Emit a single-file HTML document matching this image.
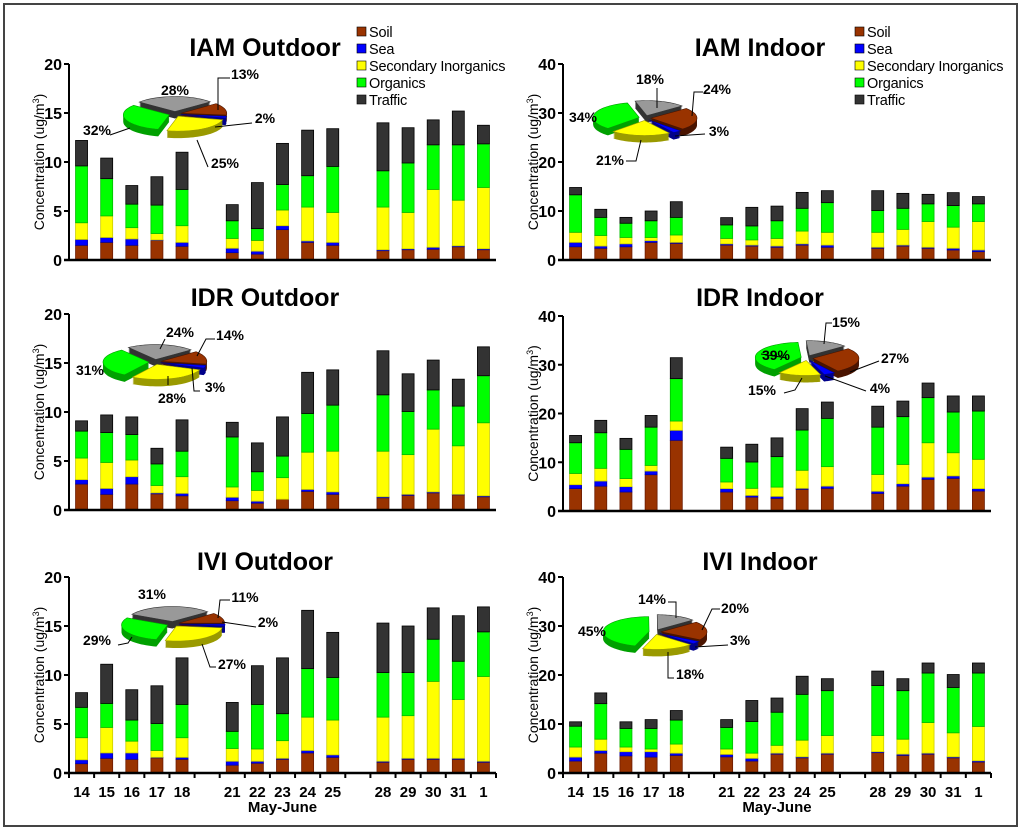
<!DOCTYPE html>
<html><head><meta charset="utf-8"><style>
body{margin:0;background:#fff}
svg text{font-family:"Liberation Sans",Arial,sans-serif}
</style></head><body>
<svg id="chart" width="1024" height="833" viewBox="0 0 1024 833" xmlns="http://www.w3.org/2000/svg">
<rect x="4" y="4" width="1013" height="822" fill="#fff" stroke="#444" stroke-width="2"/>
</svg>
<script>
// ---- data ----
const categories = ['14','15','16','17','18','','21','22','23','24','25','','28','29','30','31','1'];
const seriesNames = ['Soil','Sea','Secondary Inorganics','Organics','Traffic'];
const leftTicks = [0,5,10,15,20];
const rightTicks = [0,10,20,30,40];

const iamOutSoil = [1.5,1.8,1.5,2.0,1.4,0.75,0.6,3.1,1.8,1.5,0.95,1.05,1.1,1.35,1.05];
const iamOutSea = [0.6,0.5,0.65,0.05,0.4,0.45,0.3,0.4,0.15,0.3,0.1,0.1,0.2,0.1,0.1];
const iamOutSI = [1.7,2.2,1.15,0.65,1.7,1.0,1.1,1.6,3.45,3.05,4.35,3.7,5.9,4.65,6.25];
const iamOutOrg = [5.8,3.8,2.4,2.9,3.7,1.8,1.2,2.6,3.2,4.7,3.7,5.05,4.55,5.65,4.45];
const iamOutTraffic = [2.6,2.1,1.9,2.9,3.8,1.65,4.7,4.2,4.65,3.85,4.9,3.6,2.55,3.45,1.9];
const iamOutPie = [13,2,25,32,28];

const iamInSoil = [2.7,2.4,2.7,3.6,3.4,3.05,2.85,2.6,3.05,2.6,2.4,2.85,2.4,2.05,1.7];
const iamInSea = [0.9,0.45,0.6,0.35,0.2,0.25,0.2,0.25,0.25,0.45,0.2,0.2,0.2,0.35,0.35];
const iamInSI = [2.05,2.15,1.3,0.65,1.5,1.1,1.05,1.55,2.6,2.6,3.05,3.2,5.25,4.3,5.8];
const iamInOrg = [7.65,3.7,2.9,3.4,3.6,2.75,2.85,3.6,4.65,6.05,4.45,4.3,3.6,4.4,3.6];
const iamInTraffic = [1.5,1.65,1.2,2.0,3.2,1.5,3.8,3.0,3.25,2.45,4.05,3.05,1.95,2.65,1.5];
const iamInPie = [24,3,21,34,18];

const idrOutSoil = [2.65,1.6,2.65,1.65,1.45,0.95,0.7,1.1,1.9,1.6,1.25,1.5,1.75,1.55,1.35];
const idrOutSea = [0.45,0.6,0.75,0.1,0.25,0.35,0.2,0.0,0.2,0.25,0.1,0.1,0.1,0.05,0.1];
const idrOutSI = [2.2,2.65,1.7,0.75,1.7,1.05,1.1,2.2,3.8,4.15,4.65,4.05,6.4,4.95,7.45];
const idrOutOrg = [2.75,3.05,2.6,2.2,2.6,5.1,1.9,2.2,3.95,4.7,5.75,4.4,4.0,4.05,4.8];
const idrOutTraffic = [1.05,1.8,1.8,1.6,3.2,1.5,2.95,4.0,4.2,3.6,4.5,3.85,3.05,2.75,2.95];
const idrOutPie = [14,3,28,31,24];

const idrInSoil = [4.6,5.1,3.9,7.45,14.5,3.9,2.85,2.6,4.45,4.65,3.6,5.1,6.5,6.7,4.1];
const idrInSea = [0.8,1.05,1.1,0.75,2.05,0.7,0.35,0.4,0.2,0.45,0.45,0.5,0.45,0.5,0.5];
const idrInSI = [2.3,2.6,1.65,1.15,1.9,1.35,1.45,1.9,3.7,4.0,3.45,3.95,7.05,4.75,6.0];
const idrInOrg = [6.3,7.3,6.0,7.85,8.7,4.85,5.4,6.25,8.25,9.9,9.7,9.8,9.25,8.35,9.9];
const idrInTraffic = [1.5,2.55,2.25,2.4,4.3,2.3,3.65,3.85,4.4,3.35,4.3,3.2,3.0,3.3,3.1];
const idrInPie = [27,4,15,39,15];

const iviOutSoil = [0.95,1.5,1.4,1.55,1.4,0.8,1.0,1.4,2.05,1.6,1.1,1.4,1.4,1.4,1.1];
const iviOutSea = [0.4,0.55,0.65,0.05,0.2,0.4,0.2,0.1,0.25,0.25,0.1,0.1,0.1,0.1,0.1];
const iviOutSI = [2.25,2.6,1.2,0.7,2.0,1.3,1.25,1.8,3.4,3.55,4.5,4.35,7.85,6.0,8.65];
const iviOutOrg = [3.1,2.45,2.15,2.75,3.4,1.75,4.55,2.75,4.95,4.35,4.55,4.4,4.3,3.9,4.55];
const iviOutTraffic = [1.5,4.0,3.1,3.85,4.75,2.95,3.95,5.7,5.95,4.6,5.05,4.75,3.2,4.65,2.55];
const iviOutPie = [11,2,27,29,31];

const iviInSoil = [2.45,4.05,3.5,3.25,3.6,3.3,2.45,3.85,3.1,3.85,4.15,3.6,3.85,3.1,2.25];
const iviInSea = [0.8,0.55,0.85,1.1,0.45,0.5,0.55,0.2,0.2,0.2,0.2,0.25,0.2,0.2,0.25];
const iviInSI = [2.05,2.3,0.95,0.55,1.85,1.1,1.05,1.6,3.4,3.6,3.3,3.05,6.25,4.9,7.0];
const iviInOrg = [4.25,7.25,3.8,4.2,4.9,4.4,6.45,6.75,9.35,9.15,10.2,9.9,10.1,9.25,10.9];
const iviInTraffic = [0.9,2.2,1.35,1.8,1.95,1.6,4.3,2.9,3.7,2.45,2.95,2.45,2.05,2.65,2.05];
const iviInPie = [20,3,18,45,14];

// ---- drawing ----
const svg = document.getElementById('chart');
const NS = 'http://www.w3.org/2000/svg';
const fills = ['#993300','#0000ff','#ffff00','#00ff00','#333333'];
const strokes = ['#6b1a00','#0000aa','#cccc00','#00bb00','#000000'];
const pieTop = ['#993300','#0000ff','#ffff00','#00ff00','#999999'];
const pieSide = ['#4a1400','#00008a','#9a9a00','#00a000','#333333'];
const keys = ['soil','sea','si','org','traffic'];

function mk(tag, attrs, parent){
  const e = document.createElementNS(NS, tag);
  for (const k in attrs) e.setAttribute(k, attrs[k]);
  (parent||svg).appendChild(e);
  return e;
}

const panels = [
  {id:'iam-outdoor', title:'IAM Outdoor', x0:69, x1:496, top:64, bot:260, max:20, ticks:leftTicks, d:[iamOutSoil,iamOutSea,iamOutSI,iamOutOrg,iamOutTraffic], pie:iamOutPie, pc:[175,114], titleX:265, titleY:56, legend:true, legX:357, xlabels:false,
   labels:[[245,79,'13%'],[265,123,'2%'],[225,168,'25%'],[97,135,'32%'],[175,95,'28%']],
   leaders:[[[230,78],[218,78],[218,110]],[[252,123],[215,127]],[[208,167],[197,140]],[[110,135],[130,128]]]},
  {id:'iam-indoor', title:'IAM Indoor', x0:563, x1:991, top:64, bot:260, max:40, ticks:rightTicks, d:[iamInSoil,iamInSea,iamInSI,iamInOrg,iamInTraffic], pie:iamInPie, pc:[645,118], titleX:760, titleY:56, legend:true, legX:855, xlabels:false,
   labels:[[717,94,'24%'],[719,136,'3%'],[610,165,'21%'],[583,122,'34%'],[650,84,'18%']],
   leaders:[[[703,92],[694,92],[692,116]],[[705,134],[675,136]],[[626,161],[636,161],[641,140]],[[657,88],[657,108]]]},
  {id:'idr-outdoor', title:'IDR Outdoor', x0:69, x1:496, top:314, bot:510, max:20, ticks:leftTicks, d:[idrOutSoil,idrOutSea,idrOutSI,idrOutOrg,idrOutTraffic], pie:idrOutPie, pc:[155,362], titleX:265, titleY:306, legend:false, xlabels:false,
   labels:[[230,340,'14%'],[215,392,'3%'],[172,403,'28%'],[90,375,'31%'],[180,337,'24%']],
   leaders:[[[215,339],[206,339],[197,356]],[[200,391],[194,391],[192,368]],[[168,385],[168,376]],[[165,339],[160,349]]]},
  {id:'idr-indoor', title:'IDR Indoor', x0:563, x1:991, top:316, bot:511, max:40, ticks:rightTicks, d:[idrInSoil,idrInSea,idrInSI,idrInOrg,idrInTraffic], pie:idrInPie, pc:[807,358], titleX:760, titleY:306, legend:false, xlabels:false,
   labels:[[895,363,'27%'],[880,393,'4%'],[762,395,'15%'],[776,360,'39%'],[846,327,'15%']],
   leaders:[[[879,361],[850,372]],[[866,391],[825,376]],[[784,393],[795,390],[802,378]],[[787,358],[761,354]],[[832,323],[826,323],[824,344]]]},
  {id:'ivi-outdoor', title:'IVI Outdoor', x0:69, x1:496, top:577, bot:773, max:20, ticks:leftTicks, d:[iviOutSoil,iviOutSea,iviOutSI,iviOutOrg,iviOutTraffic], pie:iviOutPie, pc:[173,624], titleX:265, titleY:570, legend:false, xlabels:true,
   labels:[[245,602,'11%'],[268,627,'2%'],[232,669,'27%'],[97,645,'29%'],[152,599,'31%']],
   leaders:[[[230,600],[220,600],[218,618]],[[256,627],[222,622]],[[216,667],[210,667],[202,644]],[[118,645],[128,643],[132,637]]]},
  {id:'ivi-indoor', title:'IVI Indoor', x0:563, x1:991, top:577, bot:773, max:40, ticks:rightTicks, d:[iviInSoil,iviInSea,iviInSI,iviInOrg,iviInTraffic], pie:iviInPie, pc:[655,632], titleX:760, titleY:570, legend:false, xlabels:true,
   labels:[[735,613,'20%'],[740,645,'3%'],[690,679,'18%'],[592,636,'45%'],[652,604,'14%']],
   leaders:[[[720,609],[712,609],[702,630]],[[728,645],[695,647]],[[674,678],[668,678],[668,652]],[[668,602],[676,602],[676,618]]]}
];

panels.forEach(p => {
  const g = mk('g', {});
  
  
  const slotW = (p.x1 - p.x0) / categories.length;
  const xPos = i => p.x0 + slotW * (i + 0.5);
  const yPos = v => p.bot - v / p.max * (p.bot - p.top);

  const t = mk('text', {x:p.titleX, y:p.titleY, 'text-anchor':'middle', 'font-size':'25', 'font-weight':'bold', fill:'#000'}, g);
  t.textContent = p.title;
  
  

  const ya = mk('line', {x1:p.x0, y1:p.top, x2:p.x0, y2:p.bot, stroke:'#000', 'stroke-width':2}, g);
  
  
  p.ticks.forEach(tv => {
    const y = yPos(tv);
    mk('line', {x1:p.x0-5, y1:y, x2:p.x0, y2:y, stroke:'#000', 'stroke-width':2}, g);
    const tl = mk('text', {x:p.x0-7, y:y+6, 'text-anchor':'end', 'font-size':'16', 'font-weight':'bold'}, g);
    tl.textContent = tv;
    
    
  });
  const yt = mk('text', {x:0, y:0, 'text-anchor':'middle', 'font-size':'14', transform:`translate(${p.x0-25},${(p.top+p.bot)/2}) rotate(-90)`}, g);
  yt.innerHTML = 'Concentration (ug/m<tspan font-size="9" dy="-5">3</tspan><tspan dy="5">)</tspan>';
  
  

  let j = 0;
  categories.forEach((c, i) => {
    if (c === '') return;
    let cum = 0;
    for (let s = 0; s < 5; s++) {
      const v = p.d[s][j];
      const yTop = yPos(cum + v), yB = yPos(cum);
      cum += v;
      if (v <= 0) continue;
      const r = mk('rect', {x:xPos(i)-6, y:yTop, width:12, height:yB-yTop, fill:fills[s], stroke:strokes[s], 'stroke-width':0.8}, g);
      
      
    }
    if (p.xlabels) {
      const xl = mk('text', {x:xPos(i), y:p.bot+24, 'text-anchor':'middle', 'font-size':'15', 'font-weight':'bold'}, g);
      xl.textContent = c;
      
      
    }
    j++;
  });
  const xa = mk('line', {x1:p.x0-5, y1:p.bot, x2:p.x1, y2:p.bot, stroke:'#000', 'stroke-width':2.5}, g);
  
  
  if (p.xlabels) {
    for (let i = 0; i <= categories.length; i++) {
      const x = p.x0 + slotW * i;
      mk('line', {x1:x, y1:p.bot, x2:x, y2:p.bot+5, stroke:'#000', 'stroke-width':2}, g);
    }
    const xt = mk('text', {x:(p.x0+p.x1)/2, y:p.bot+39, 'text-anchor':'middle', 'font-size':'15', 'font-weight':'bold'}, g);
    xt.textContent = 'May-June';
    
    
  }

  const pg = mk('g', {}, g);
  
  
  const [cx, cy] = p.pc, rx = 46, ry = 15, depth = 7, start = 50;
  const total = p.pie.reduce((a,b)=>a+b,0);
  const wedges = [];
  let a = start;
  p.pie.forEach((pct, s) => {
    const a0 = a, a1 = a + pct/total*360; a = a1;
    const mid = (a0+a1)/2*Math.PI/180;
    const ox = 6*Math.sin(mid), oy = -2.5*Math.cos(mid);
    wedges.push({s, a0, a1, ox, oy});
  });
  function wedgePath(w, dy){
    const ccx = cx + w.ox, ccy = cy + w.oy + dy;
    let d = `M${ccx},${ccy}`;
    for (let t = w.a0; t <= w.a1 + 0.01; t += Math.max(1,(w.a1-w.a0)/30)) {
      const r = t*Math.PI/180;
      d += ` L${ccx + rx*Math.sin(r)},${ccy - ry*Math.cos(r)}`;
    }
    const r1 = w.a1*Math.PI/180;
    d += ` L${ccx + rx*Math.sin(r1)},${ccy - ry*Math.cos(r1)} Z`;
    return d;
  }
  for (let dy = depth; dy >= 1; dy--) {
    wedges.forEach(w => {
      mk('path', {d:wedgePath(w, dy), fill:pieSide[w.s]}, pg);
    });
  }
  wedges.forEach(w => {
    const sl = mk('path', {d:wedgePath(w, 0), fill:pieTop[w.s], stroke:pieSide[w.s], 'stroke-width':0.6}, pg);
    
    
  });
  p.leaders.forEach(pts => {
    mk('polyline', {points:pts.map(q=>q.join(',')).join(' '), fill:'none', stroke:'#000', 'stroke-width':1}, pg);
  });
  p.labels.forEach(([lx, ly, txt]) => {
    const lt = mk('text', {x:lx, y:ly, 'text-anchor':'middle', 'font-size':'14', 'font-weight':'bold'}, pg);
    lt.textContent = txt;
    
    
  });

  if (p.legend) {
    const lg = mk('g', {}, g);
    
    
    seriesNames.forEach((n, s) => {
      const y = 32 + s*17;
      const sw = mk('rect', {x:p.legX, y:y-5, width:9, height:9, fill:fills[s], stroke:'#000', 'stroke-width':0.6}, lg);
      
      
      const lt = mk('text', {x:p.legX+12, y:y+5, 'font-size':'14.5', 'letter-spacing':'-0.2'}, lg);
      lt.textContent = n;
      
      
    });
  }
});
</script>
</body></html>
